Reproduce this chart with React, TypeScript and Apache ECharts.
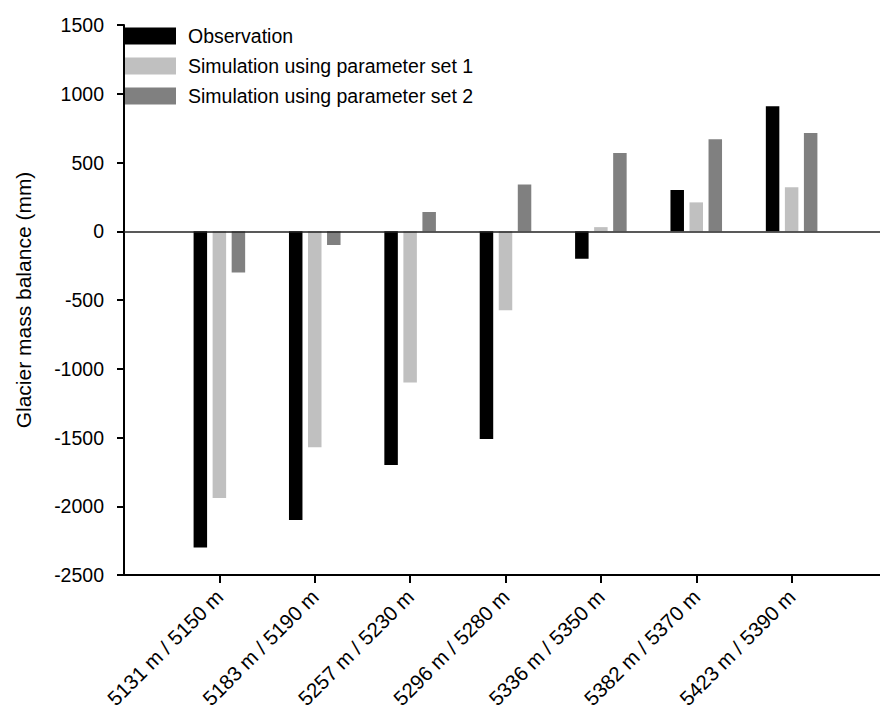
import React, { useEffect, useRef } from "react";
import * as echarts from "echarts";

const categories = [
  "5131 m / 5150 m",
  "5183 m / 5190 m",
  "5257 m / 5230 m",
  "5296 m / 5280 m",
  "5336 m / 5350 m",
  "5382 m / 5370 m",
  "5423 m / 5390 m",
];
const observation = [-2300, -2100, -1700, -1510, -200, 300, 910];
const simulationSet1 = [-1940, -1570, -1100, -575, 30, 210, 320];
const simulationSet2 = [-300, -100, 140, 340, 570, 670, 715];
const seriesNames = [
  "Observation",
  "Simulation using parameter set 1",
  "Simulation using parameter set 2",
];
const seriesColors = ["#000000", "#c0c0c0", "#808080"];

const FONT = "'Liberation Sans', Arial, Helvetica, sans-serif";

const pad = (arr: number[]) => [null, ...arr, null];

export default function App() {
  const ref = useRef<HTMLDivElement>(null);
  useEffect(() => {
    if (!ref.current) return;
    const chart = echarts.init(ref.current, null, { renderer: "svg" });
    const allData = [observation, simulationSet1, simulationSet2];
    chart.setOption({
      animation: false,
      backgroundColor: "#ffffff",
      textStyle: { fontFamily: FONT },
      grid: {
        left: 124,
        top: 25,
        height: 550,
        width: 763,
        containLabel: false,
        outerBoundsMode: "none",
      },
      legend: {
        orient: "vertical",
        left: 125,
        top: 26,
        padding: 0,
        itemWidth: 51,
        itemHeight: 17,
        itemGap: 10,
        icon: "rect",
        selectedMode: false,
        textStyle: {
          fontSize: 19.5,
          lineHeight: 19,
          color: "#000",
          fontFamily: FONT,
          padding: [0, 0, 0, 7],
        },
        data: seriesNames,
      },
      xAxis: {
        type: "category",
        data: ["", ...categories, ""],
        boundaryGap: false,
        axisLine: { onZero: false, lineStyle: { color: "#000", width: 2 } },
        axisTick: {
          show: true,
          length: 8,
          lineStyle: { color: "#000", width: 2 },
          interval: (_i: number, v: string) => v !== "",
        },
        axisLabel: {
          interval: 0,
          rotate: 45,
          fontSize: 20.5,
          color: "#000",
          fontFamily: FONT,
          margin: 18,
        },
        splitLine: { show: false },
      },
      yAxis: {
        type: "value",
        min: -2500,
        max: 1500,
        interval: 500,
        name: "Glacier mass balance (mm)",
        nameLocation: "middle",
        nameRotate: 90,
        nameGap: 90,
        nameTextStyle: { fontSize: 21, color: "#000", fontFamily: FONT },
        axisLine: { show: true, lineStyle: { color: "#000", width: 2 } },
        axisTick: { show: true, length: 7, lineStyle: { color: "#000", width: 2 } },
        axisLabel: {
          fontSize: 19.5,
          color: "#000",
          fontFamily: FONT,
          margin: 20,
          formatter: (v: number) => String(v),
        },
        splitLine: { show: false },
      },
      series: seriesNames.map((name, i) => ({
        name,
        type: "bar",
        data: pad(allData[i]),
        barWidth: 13.5,
        barGap: "41%",
        itemStyle: { color: seriesColors[i] },
        ...(i === 0
          ? {
              markLine: {
                silent: true,
                symbol: ["none", "none"],
                label: { show: false },
                lineStyle: { color: "#222", width: 1.5, type: "solid" },
                data: [{ yAxis: 0 }],
              },
            }
          : {}),
      })),
    });
    return () => chart.dispose();
  }, []);
  return (
    <div
      ref={ref}
      style={{ position: "absolute", left: 0, top: 0, width: 880, height: 713 }}
    />
  );
}
